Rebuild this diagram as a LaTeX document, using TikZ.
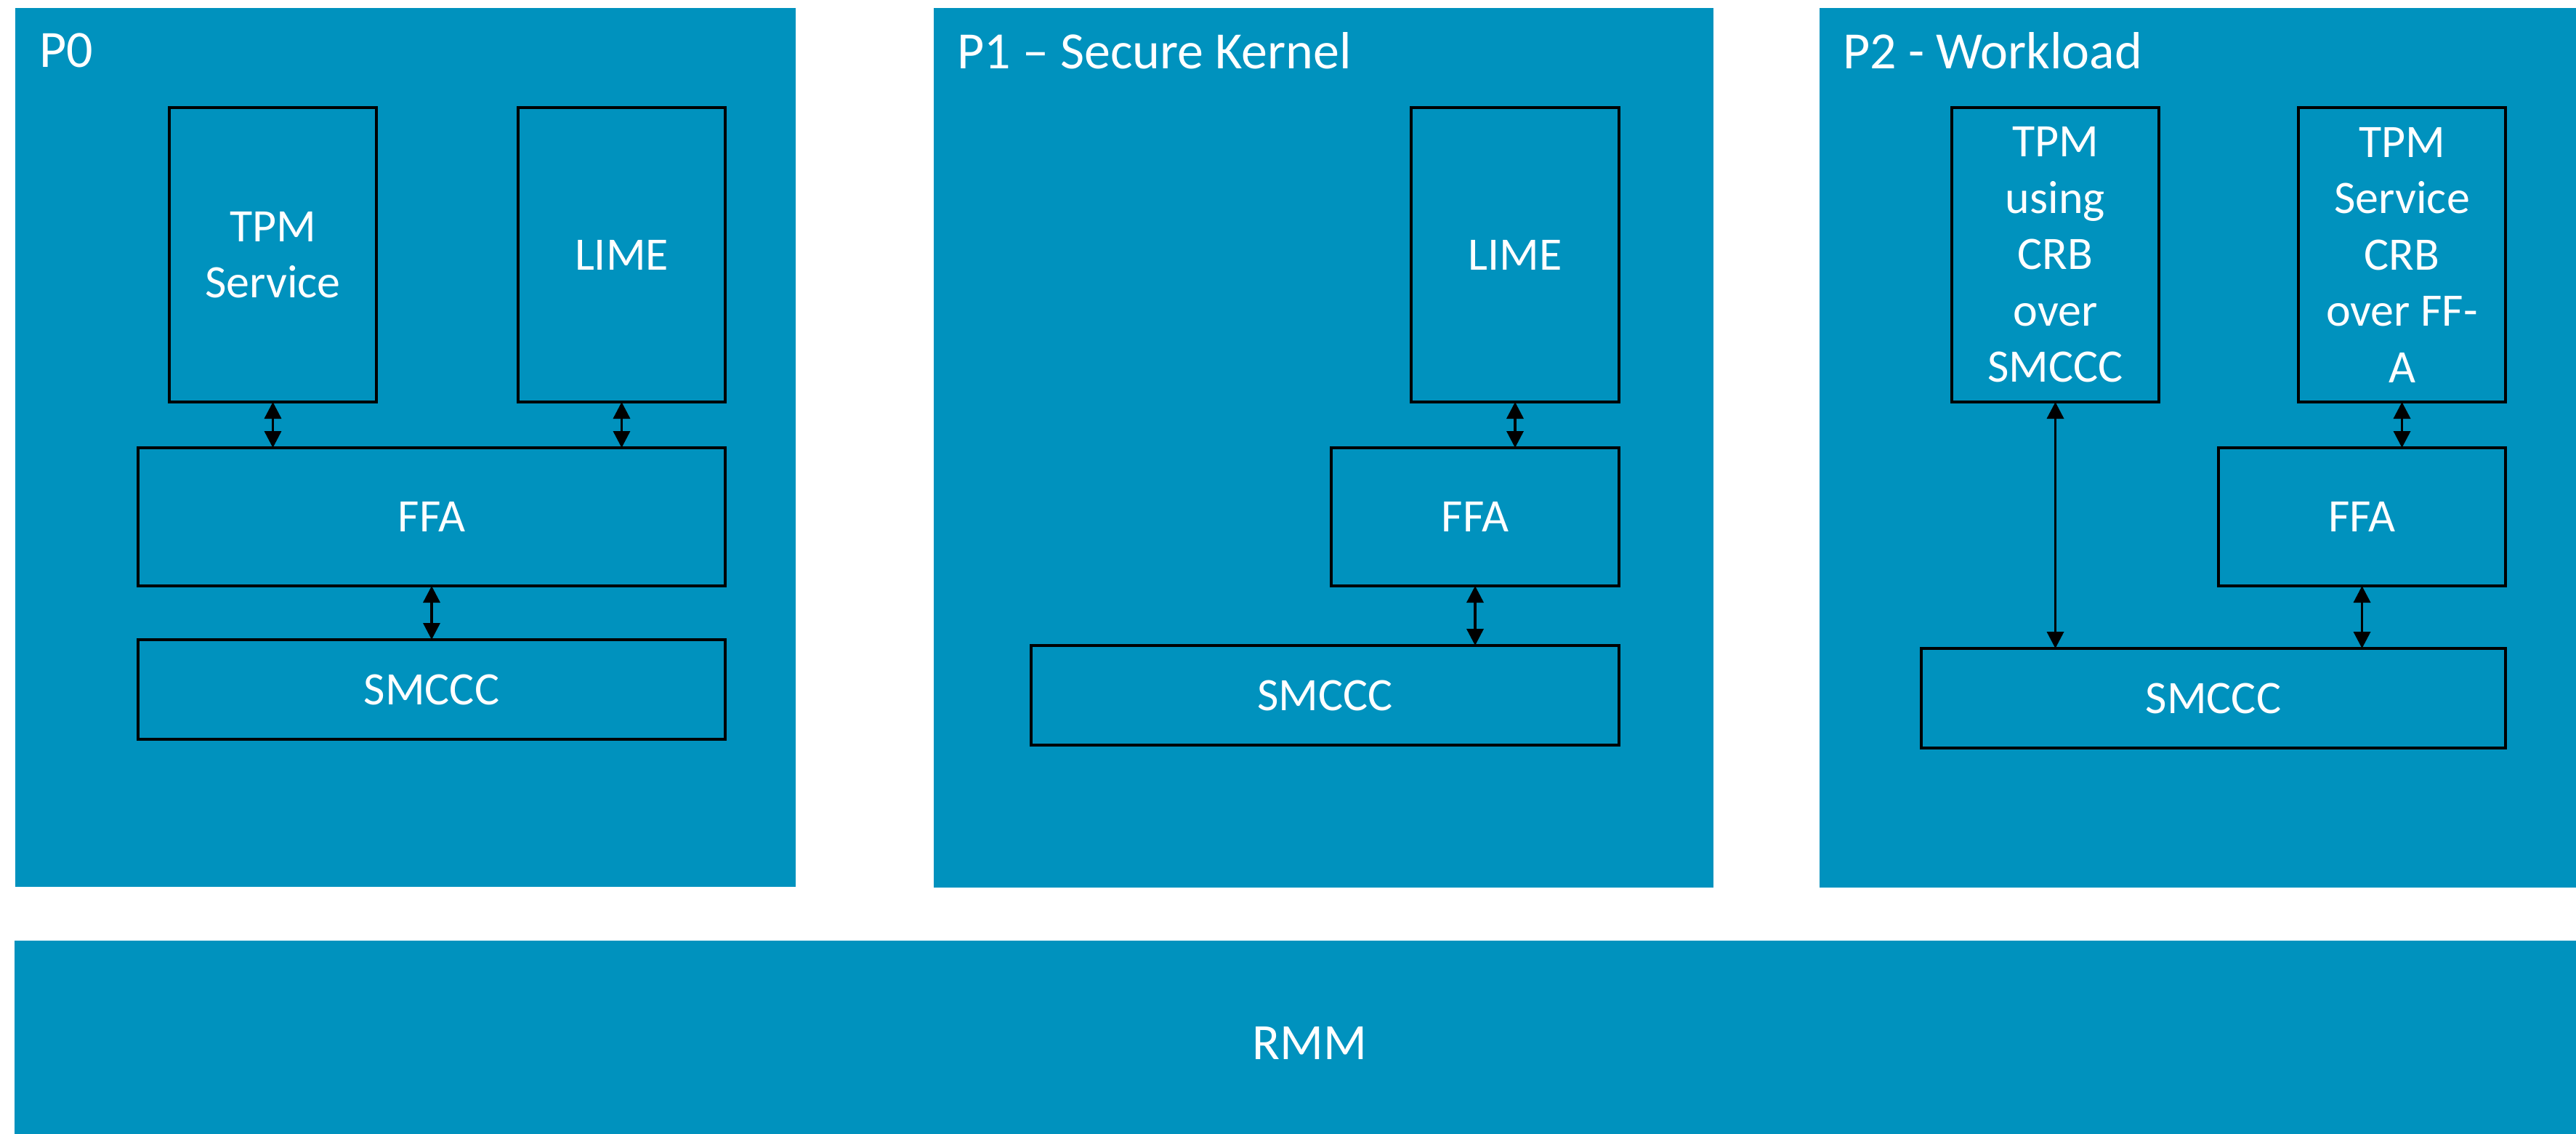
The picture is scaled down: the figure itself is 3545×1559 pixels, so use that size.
\documentclass[tikz,border=0pt]{standalone}
\usepackage{fontspec}
\setmainfont{Carlito}
\usetikzlibrary{arrows.meta}
\definecolor{armblue}{RGB}{0,146,190}
\begin{document}
\begin{tikzpicture}[x=1pt,y=-1pt,
  panel/.style={fill=armblue, draw=none, inner sep=0pt, outer sep=0pt},
  blk/.style={draw=black, line width=3.5pt, fill=armblue, text=white, inner sep=0pt, outer sep=0pt, align=center, font=\fontsize{64}{77.5}\selectfont},
  ttl/.style={text=white, font=\fontsize{72}{86}\selectfont, anchor=base west, inner sep=0pt},
  link/.style={line width=3.5pt, {Triangle[width=23pt,length=23pt]}-{Triangle[width=23pt,length=23pt]}}
]
\fill[white] (0,0) rectangle (3545,1559);
\useasboundingbox (0,0) rectangle (3545,1559);

% panels
\node[panel, minimum width=1074pt, minimum height=1209pt] (P0) at (558,615.5) {};
\node[panel, minimum width=1073pt, minimum height=1210pt] (P1) at (1821.5,616) {};
\node[panel, minimum width=1074pt, minimum height=1210pt] (P2) at (3041,616) {};
\node[panel, minimum width=3564pt, minimum height=283pt, text=white, font=\fontsize{70}{84}\selectfont] (rmm) at (1802,1435.5) {RMM};

% titles
\node[ttl] (t0) at (54,92) {P0};
\node[ttl] (t1) at (1317,94) {P1 – Secure Kernel};
\node[ttl] (t2) at (2536,94) {P2 - Workload};

% P0 blocks
\node[blk, minimum width=285pt, minimum height=405pt] (tpm0) at (375.5,350.5) {TPM\\Service};
\node[blk, minimum width=285pt, minimum height=405pt] (lime0) at (855.5,350.5) {LIME};
\node[blk, minimum width=808pt, minimum height=190pt] (ffa0) at (594,711) {FFA};
\node[blk, minimum width=808pt, minimum height=137pt] (smc0) at (594,948.5) {SMCCC};

% P1 blocks
\node[blk, minimum width=286pt, minimum height=405pt] (lime1) at (2085,350.5) {LIME};
\node[blk, minimum width=396pt, minimum height=190pt] (ffa1) at (2030,711) {FFA};
\node[blk, minimum width=809pt, minimum height=137pt] (smc1) at (1823.5,956.5) {SMCCC};

% P2 blocks
\node[blk, minimum width=285pt, minimum height=405pt] (tpm2a) at (2828.5,350.5) {TPM\\using\\CRB\\over\\SMCCC};
\node[blk, minimum width=285pt, minimum height=405pt] (tpm2b) at (3305.5,350.5) {TPM\\Service\\CRB\\over FF-\\A};
\node[blk, minimum width=395pt, minimum height=190pt] (ffa2) at (3250.5,711) {FFA};
\node[blk, minimum width=804pt, minimum height=137pt] (smc2) at (3046,960.5) {SMCCC};

% connectors
\draw[link] (tpm0.south) -- (tpm0.south |- ffa0.north);
\draw[link] (lime0.south) -- (lime0.south |- ffa0.north);
\draw[link] (ffa0.south) -- (ffa0.south |- smc0.north);
\draw[link] (lime1.south) -- (lime1.south |- ffa1.north);
\draw[link] (ffa1.south) -- (ffa1.south |- smc1.north);
\draw[link] (tpm2a.south) -- (tpm2a.south |- smc2.north);
\draw[link] (tpm2b.south) -- (tpm2b.south |- ffa2.north);
\draw[link] (ffa2.south) -- (ffa2.south |- smc2.north);
\end{tikzpicture}
\end{document}
